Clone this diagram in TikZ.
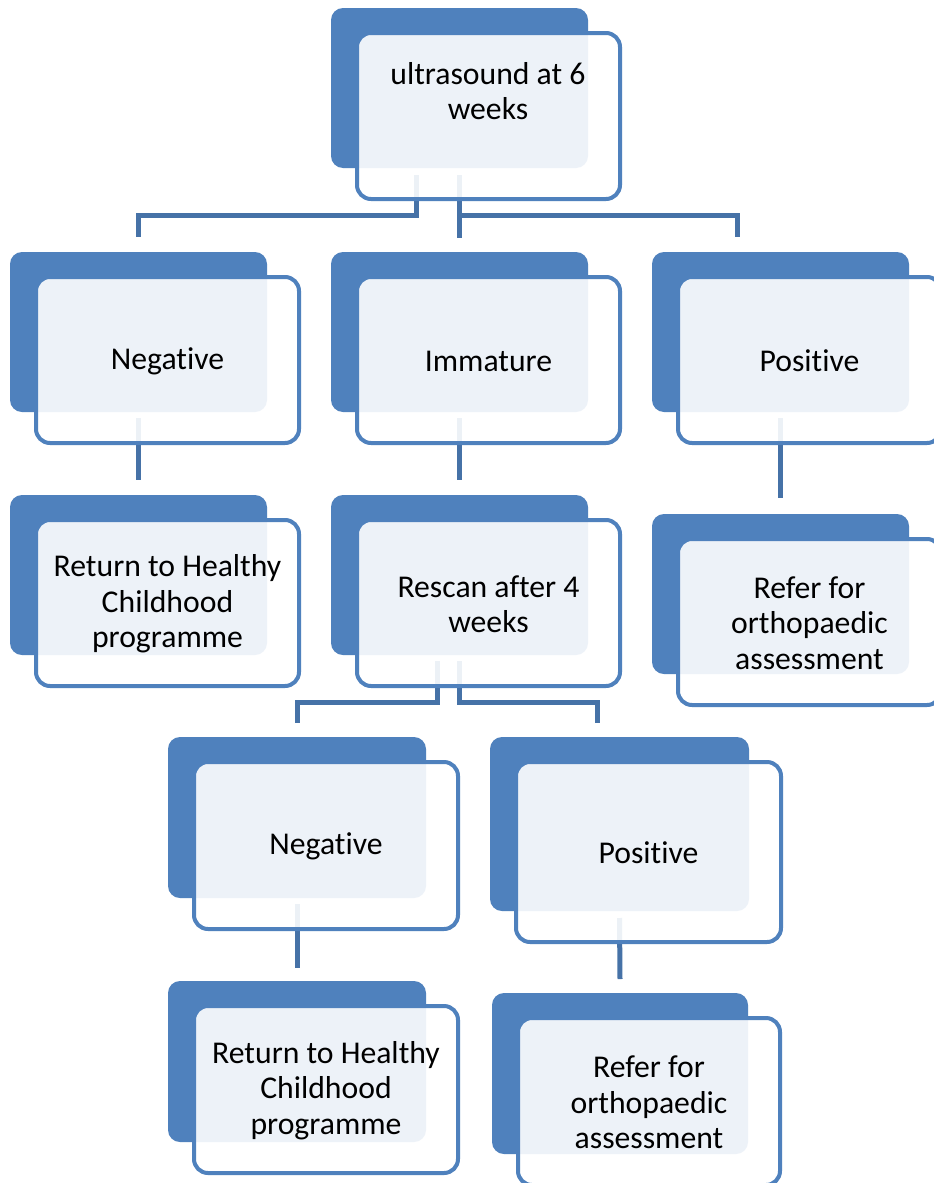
\documentclass[tikz,border=0pt]{standalone}
\usepackage{fontspec}
\setmainfont{Carlito}[Ligatures={NoCommon}]
\usetikzlibrary{calc}
\pgfdeclarelayer{bg}
\pgfsetlayers{bg,main}
\definecolor{accent}{HTML}{4F81BD}
\definecolor{connblue}{RGB}{70,114,167}
\tikzset{
  darkbox/.style={rectangle, rounded corners=12pt, fill=accent, draw=none,
    inner sep=0pt, outer sep=0pt, anchor=north west},
  frontbox/.style={rectangle, rounded corners=14pt, draw=accent, line width=4pt,
    fill=white, fill opacity=0.9, draw opacity=1, inner sep=0pt, outer sep=0pt,
    anchor=north west},
  lbl/.style={align=center, font=\fontsize{31.7}{35.3}\selectfont, inner sep=0pt},
  conn/.style={draw=connblue, line width=5pt, line join=miter},
}
\newcommand\twobox[5]{%
  \node[darkbox, minimum width=#4pt, minimum height=#5pt] (#1d) at (#2,#3) {};
  \node[frontbox, minimum width=#4pt+6pt, minimum height=#5pt+6pt] (#1) at (#2+26,#3+25) {};
}
\begin{document}
\begin{tikzpicture}[x=1pt, y=-1pt]
\useasboundingbox (0,0) rectangle (934,1183);
\clip (0,0) rectangle (934,1183);

% boxes
\twobox{u}{331}{8}{257}{160}
\twobox{na}{10}{252}{257}{160}
\twobox{im}{331}{252}{257}{160}
\twobox{pa}{652}{252}{257}{160}
\twobox{ra}{10}{495}{257}{160}
\twobox{rs}{331}{495}{257}{160}
\twobox{fa}{652}{514}{257}{160}
\twobox{nb}{168}{737}{258}{161}
\twobox{pb}{490}{737}{259}{174}
\twobox{rb}{168}{981}{258}{161}
\twobox{fb}{492}{993}{256}{161}

% texts
\node[lbl] (ut) at (488,91) {ultrasound at 6\\weeks};
\node[lbl] (nat) at ($(na)+(0,1)$) {Negative};
\node[lbl] (imt) at ($(im)+(0,1)$) {Immature};
\node[lbl] (pat) at ($(pa)+(0,1)$) {Positive};
\node[lbl] (rat) at ($(ra)+(0,1)$) {Return to Healthy\\Childhood\\programme};
\node[lbl] (rst) at ($(rs)+(0,1)$) {Rescan after 4\\weeks};
\node[lbl] (fat) at ($(fa)+(0,1)$) {Refer for\\orthopaedic\\assessment};
\node[lbl] (nbt) at ($(nb)+(0,1)$) {Negative};
\node[lbl] (pbt) at ($(pb)+(0,1)$) {Positive};
\node[lbl] (rbt) at ($(rb)+(0,1)$) {Return to Healthy\\Childhood\\programme};
\node[lbl] (fbt) at ($(fb)+(0,1)$) {Refer for\\orthopaedic\\assessment};

% connectors (behind the boxes)
\begin{pgfonlayer}{bg}
\fill[white] (0,0) rectangle (934,1183);
\draw[conn] ($(ud.south)+(-43,7)$) -- ++(0,40) -| ($(nad.north)+(0,-15)$);
\draw[conn] ($(ud.south)+(0,7)$) -- ($(imd.north)+(0,-14)$);
\draw[conn] ($(ud.south)+(0,47)$) -| ($(pad.north)+(-43,-15)$);
\draw[conn] ($(nad.south)+(0,6)$) -- ($(rad.north)+(0,-15)$);
\draw[conn] ($(imd.south)+(0,6)$) -- ($(rsd.north)+(0,-15)$);
\draw[conn] ($(pad.south)+(0,6)$) -- ($(fad.north)+(0,-16)$);
\draw[conn] ($(rsd.south)+(-22,6)$) -- ++(0,41) -| ($(nbd.north)+(0,-14)$);
\draw[conn] ($(rsd.south)+(0,6)$) -- ++(0,41) -| ($(pbd.north)+(-22,-14)$);
\draw[conn] ($(nbd.south)+(0,6)$) -- ($(rbd.north)+(0,-13)$);
\draw[conn] ($(pbd.south)+(0,7)$) -- ($(fbd.north)+(0,-14)$);
\end{pgfonlayer}
\end{tikzpicture}
\end{document}
